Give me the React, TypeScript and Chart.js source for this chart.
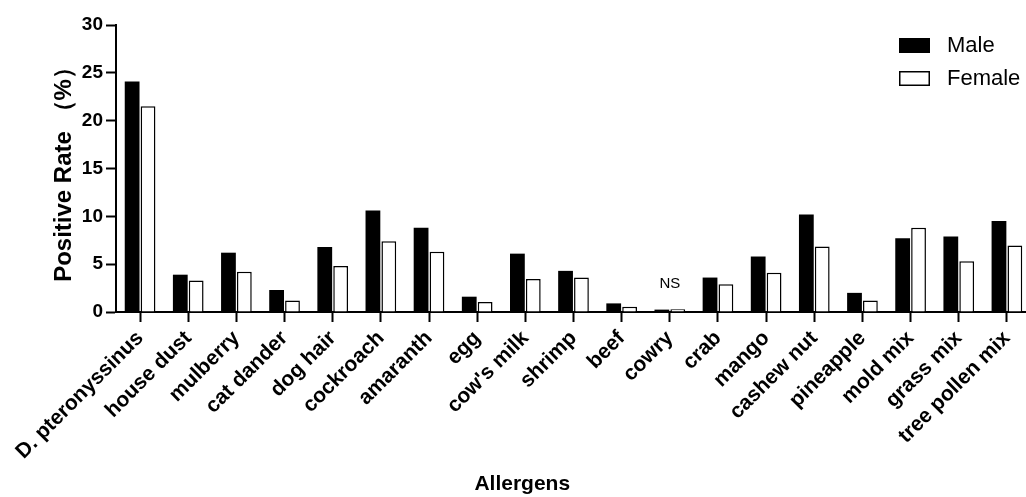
import { useEffect, useRef } from "react";
import { Chart, registerables } from "chart.js";

Chart.register(...registerables);

const categories = [
  "D. pteronyssinus",
  "house dust",
  "mulberry",
  "cat dander",
  "dog hair",
  "cockroach",
  "amaranth",
  "egg",
  "cow's milk",
  "shrimp",
  "beef",
  "cowry",
  "crab",
  "mango",
  "cashew nut",
  "pineapple",
  "mold mix",
  "grass mix",
  "tree pollen mix",
];
const maleValues = [24.1, 3.9, 6.2, 2.3, 6.8, 10.6, 8.8, 1.6, 6.1, 4.3, 0.9, 0.25, 3.6, 5.8, 10.2, 2.0, 7.7, 7.9, 9.5];
const femaleValues = [21.5, 3.3, 4.2, 1.2, 4.8, 7.4, 6.3, 1.05, 3.45, 3.6, 0.55, 0.3, 2.9, 4.1, 6.85, 1.2, 8.8, 5.3, 6.95];
const seriesNames = ["Male", "Female"];
const yMin = 0;
const yMax = 30;
const yStep = 5;
const yTitle = "Positive Rate （%）";
const xTitle = "Allergens";
const noteLabel = "NS";
const noteCategory = "cowry";

const FONT = "'Liberation Sans', Arial, Helvetica, sans-serif";

export default function App() {
  const ref = useRef<HTMLCanvasElement | null>(null);

  useEffect(() => {
    document.body.style.margin = "0";
    const canvas = ref.current;
    if (!canvas) return;

    const legendPlugin = {
      id: "customLegend",
      afterDraw(chart: any) {
        const ctx = chart.ctx;
        ctx.save();
        chart.data.datasets.forEach((ds: any, i: number) => {
          const x = 899;
          const y = 38 + i * 33;
          ctx.fillStyle = ds.backgroundColor;
          ctx.fillRect(x, y, 31, 15);
          ctx.lineWidth = 1.5;
          ctx.strokeStyle = "#000";
          ctx.strokeRect(x + 0.75, y + 0.75, 29.5, 13.5);
          ctx.fillStyle = "#000";
          ctx.font = `22px ${FONT}`;
          ctx.textBaseline = "middle";
          ctx.textAlign = "left";
          ctx.fillText(ds.label, 947, y + 8);
        });
        ctx.restore();
      },
    };

    const extraTextPlugin = {
      id: "extraText",
      afterDraw(chart: any) {
        const ctx = chart.ctx;
        const xs = chart.scales.x;
        const ys = chart.scales.y;
        const area = chart.chartArea;
        ctx.save();
        ctx.fillStyle = "#000";
        ctx.font = `bold 21px ${FONT}`;
        ctx.textAlign = "center";
        ctx.textBaseline = "middle";
        ctx.fillText(xTitle, area.left + (area.right - area.left) * 0.444, 484);
        const idx = categories.indexOf(noteCategory);
        if (idx >= 0) {
          const top = Math.max(maleValues[idx], femaleValues[idx]);
          const px = xs.getPixelForValue(idx);
          const py = ys.getPixelForValue(top) - 25;
          ctx.font = `15px ${FONT}`;
          ctx.fillText(noteLabel, px, py);
        }
        ctx.restore();
      },
    };

    const chart = new Chart(canvas, {
      type: "bar",
      data: {
        labels: categories,
        datasets: [
          {
            label: seriesNames[0],
            data: maleValues,
            backgroundColor: "#000000",
            borderColor: "#000000",
            borderWidth: 0,
            categoryPercentage: 0.66,
            barPercentage: 0.93,
          },
          {
            label: seriesNames[1],
            data: femaleValues,
            backgroundColor: "#ffffff",
            borderColor: "#000000",
            borderWidth: 1.5,
            categoryPercentage: 0.66,
            barPercentage: 0.93,
          },
        ],
      },
      options: {
        responsive: false,
        animation: false,
        devicePixelRatio: 1,
        layout: { padding: { top: 25, right: 0, bottom: 0, left: 0 } },
        plugins: {
          legend: { display: false },
          tooltip: { enabled: false },
        },
        scales: {
          x: {
            afterFit(scale: any) {
              scale.height = 185;
            },
            grid: {
              display: true,
              drawOnChartArea: false,
              drawTicks: true,
              offset: false,
              tickLength: 10,
              tickWidth: 2,
              tickColor: "#000",
              color: "#000",
            },
            border: { display: true, width: 2, color: "#000" },
            ticks: {
              autoSkip: false,
              minRotation: 45,
              maxRotation: 45,
              padding: 4,
              color: "#000",
              font: { family: FONT, size: 21, weight: "bold" },
            },
          },
          y: {
            min: yMin,
            max: yMax,
            afterFit(scale: any) {
              scale.width = 116;
            },
            grid: {
              display: true,
              drawOnChartArea: false,
              drawTicks: true,
              tickLength: 10,
              tickWidth: 2,
              tickColor: "#000",
              color: "#000",
            },
            border: { display: true, width: 2, color: "#000" },
            ticks: {
              stepSize: yStep,
              padding: 3,
              color: "#000",
              font: { family: FONT, size: 19, weight: "bold" },
            },
            title: {
              display: true,
              text: yTitle,
              color: "#000",
              padding: { top: 50, bottom: 0 },
              font: { family: FONT, size: 24, weight: "bold" },
            },
          },
        },
      },
      plugins: [legendPlugin, extraTextPlugin],
    } as any);

    return () => {
      chart.destroy();
    };
  }, []);

  return (
    <div
      style={{
        position: "fixed",
        left: 0,
        top: 0,
        width: 1026,
        height: 497,
        overflow: "hidden",
        background: "#fff",
      }}
    >
      <canvas ref={ref} width={1031} height={497} style={{ width: 1031, height: 497, display: "block" }} />
    </div>
  );
}
